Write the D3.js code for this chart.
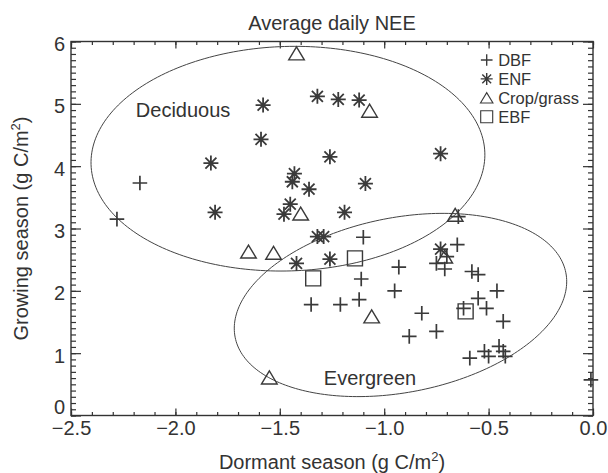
<!DOCTYPE html>
<html>
<head>
<meta charset="utf-8">
<script src="https://cdn.jsdelivr.net/npm/d3@7"></script>
<style>
  body { margin: 0; background: #fff; }
  svg text { font-family: "Liberation Sans", Arial, Helvetica, sans-serif; fill: #333; }
</style>
</head>
<body>
<div id="plot"></div>
<script>
// Dormant season NEE (x) vs growing season NEE (y), g C/m2 per day
const dbfX = [-2.28, -2.17, -1.10, -1.35, -1.21, -1.12, -1.11, -0.93, -0.95, -0.82, -0.88, -0.75,
  -0.65, -0.645, -0.75, -0.71, -0.70, -0.58, -0.55, -0.46, -0.55, -0.51, -0.43, -0.62,
  -0.59, -0.52, -0.50, -0.45, -0.43, -0.42, -0.01];
const dbfY = [3.15, 3.73, 2.86, 1.78, 1.78, 1.86, 2.19, 2.38, 2.00, 1.64, 1.27, 1.35,
  2.74, 3.19, 2.44, 2.35, 2.55, 2.31, 2.26, 2.00, 1.88, 1.72, 1.51, 1.72,
  0.92, 1.03, 0.95, 1.11, 1.03, 0.95, 0.57];

const enfX = [-1.58, -1.59, -1.83, -1.32, -1.22, -1.12, -1.26, -1.43, -1.44, -1.36, -1.81,
  -1.45, -1.48, -1.19, -1.09, -0.73, -1.32, -1.29, -1.42, -1.26, -0.73];
const enfY = [4.98, 4.43, 4.05, 5.12, 5.07, 5.06, 4.15, 3.88, 3.75, 3.63, 3.26,
  3.39, 3.23, 3.26, 3.72, 4.20, 2.87, 2.87, 2.44, 2.51, 2.67];

const cropX = [-1.42, -1.07, -1.40, -1.65, -1.53, -1.55, -1.06, -0.66, -0.71];
const cropY = [5.81, 4.89, 3.24, 2.63, 2.61, 0.61, 1.59, 3.22, 2.55];

const ebfX = [-1.34, -1.14, -0.61];
const ebfY = [2.20, 2.52, 1.67];

const legendLabels = ["DBF", "ENF", "Crop/grass", "EBF"];
const xTicks = [-2.5, -2.0, -1.5, -1.0, -0.5, 0.0];
const yTicks = [0, 1, 2, 3, 4, 5, 6];

// ellipses: centre and two conjugate semi-axes, in data units
const ellipseNames = ["Deciduous", "Evergreen"];
const ellipseCenter = [[-1.461, 4.12], [-0.922, 1.773]];
const ellipseU = [[0.943, 0.094], [0.792, 0.517]];
const ellipseV = [[-0.016, 1.80], [-0.080, 1.376]];
const ellipseLabelAt = [[-1.963, 4.91], [-1.068, 0.61]];

const W = 608, H = 473;
const mLeft = 71, mRight = 593, mTop = 41.5, mBottom = 415.5;

const svg = d3.select("#plot").append("svg")
  .attr("width", W)
  .attr("height", H);

const x = d3.scaleLinear().domain([-2.5, 0]).range([mLeft, mRight]);
const y = d3.scaleLinear().domain([0, 6]).range([mBottom, mTop]);

const ink = "#333";
const minorX = d3.range(-25, 1).map(d => d / 10);
const minorY = d3.range(0, 61).map(d => d / 10);

// inward ticks without labels
function ticksOnly(axis, pos, len, vals) {
  const g = svg.append("g")
    .attr("transform", pos)
    .call(axis.tickValues(vals).tickSize(-len).tickSizeOuter(0).tickFormat(""));
  g.select(".domain").remove();
  g.selectAll("line").attr("stroke", ink).attr("stroke-width", 1.2);
  return g;
}
ticksOnly(d3.axisBottom(x), `translate(0,${mBottom})`, 3.5, minorX);
ticksOnly(d3.axisTop(x), `translate(0,${mTop})`, 3.5, minorX);
ticksOnly(d3.axisLeft(y), `translate(${mLeft},0)`, 5, minorY);
ticksOnly(d3.axisRight(y), `translate(${mRight},0)`, 5, minorY);

// major ticks
ticksOnly(d3.axisTop(x), `translate(0,${mTop})`, 7, xTicks);
ticksOnly(d3.axisRight(y), `translate(${mRight},0)`, 10, yTicks);

const xAxis = svg.append("g")
  .attr("transform", `translate(0,${mBottom})`)
  .call(d3.axisBottom(x).tickValues(xTicks).tickSize(-7).tickSizeOuter(0)
    .tickPadding(19).tickFormat(d3.format(".1f")));
xAxis.select(".domain").remove();
xAxis.selectAll("line").attr("stroke", ink).attr("stroke-width", 1.2);
xAxis.selectAll("text").attr("font-size", 20).attr("dy", 0).attr("fill", ink);

const yAxis = svg.append("g")
  .attr("transform", `translate(${mLeft},0)`)
  .call(d3.axisLeft(y).tickValues(yTicks).tickSize(-10).tickSizeOuter(0)
    .tickPadding(6).tickFormat(d3.format("d")));
yAxis.select(".domain").remove();
yAxis.selectAll("line").attr("stroke", ink).attr("stroke-width", 1.2);
yAxis.selectAll("text").attr("font-size", 20).attr("fill", ink)
  .attr("dy", d => d === 0 ? "-0.12em" : "0.45em");

// frame
svg.append("rect")
  .attr("x", mLeft).attr("y", mTop)
  .attr("width", mRight - mLeft).attr("height", mBottom - mTop)
  .attr("fill", "none").attr("stroke", ink).attr("stroke-width", 1.4);

// ellipses
const line = d3.line().x(d => x(d[0])).y(d => y(d[1])).curve(d3.curveLinearClosed);
ellipseNames.forEach((name, i) => {
  const pts = d3.range(0, 240).map(k => {
    const t = k / 240 * 2 * Math.PI;
    return [ellipseCenter[i][0] + ellipseU[i][0] * Math.cos(t) + ellipseV[i][0] * Math.sin(t),
            ellipseCenter[i][1] + ellipseU[i][1] * Math.cos(t) + ellipseV[i][1] * Math.sin(t)];
  });
  svg.append("path")
    .attr("d", line(pts))
    .attr("fill", "none")
    .attr("stroke", "#444")
    .attr("stroke-width", 1);
  svg.append("text")
    .attr("x", x(ellipseLabelAt[i][0]))
    .attr("y", y(ellipseLabelAt[i][1]))
    .attr("dy", "0.36em")
    .attr("text-anchor", "middle")
    .attr("font-size", 20)
    .text(name);
});

// marker shapes, drawn around (0,0)
const shapes = {
  plus: "M-7.3,0H7.3M0,-7.3V7.3",
  star: "M-7.5,0H7.5M0,-7.5V7.5M-5.5,-5.5L5.5,5.5M-5.5,5.5L5.5,-5.5",
  tri: "M-7.8,6.5L0,-6.5L7.8,6.5Z",
  square: "M-7.5,-7.5H7.5V7.5H-7.5Z"
};
const groups = [
  {xs: dbfX, ys: dbfY, shape: "plus", w: 1.7},
  {xs: enfX, ys: enfY, shape: "star", w: 1.8},
  {xs: cropX, ys: cropY, shape: "tri", w: 1.4},
  {xs: ebfX, ys: ebfY, shape: "square", w: 1.4}
];
groups.forEach(g => {
  svg.append("g").selectAll("path")
    .data(g.xs.map((v, i) => [v, g.ys[i]]))
    .join("path")
    .attr("transform", d => `translate(${x(d[0])},${y(d[1])})`)
    .attr("d", shapes[g.shape])
    .attr("fill", "none")
    .attr("stroke", "#3a3a3a")
    .attr("stroke-width", g.w);
});

// legend
const legend = svg.append("g").attr("transform", "translate(486.7,60)");
legendLabels.forEach((lab, i) => {
  const row = legend.append("g").attr("transform", `translate(0,${i * 18.9})`);
  row.append("path")
    .attr("d", shapes[groups[i].shape])
    .attr("transform", "scale(0.8)")
    .attr("fill", "none")
    .attr("stroke", "#3a3a3a")
    .attr("stroke-width", groups[i].w);
  row.append("text")
    .attr("x", 11.5)
    .attr("dy", "0.36em")
    .attr("font-size", 16.5)
    .text(lab);
});

// titles
svg.append("text")
  .attr("x", (mLeft + mRight) / 2).attr("y", 30)
  .attr("text-anchor", "middle")
  .attr("font-size", 20)
  .text("Average daily NEE");

const xt = svg.append("text")
  .attr("x", (mLeft + mRight) / 2).attr("y", 469)
  .attr("text-anchor", "middle")
  .attr("font-size", 20)
  .text("Dormant season (g C/m");
xt.append("tspan").attr("dy", -8).attr("font-size", 13).text("2");
xt.append("tspan").attr("dy", 8).text(")");

const yt = svg.append("text")
  .attr("transform", `translate(28,${(mTop + mBottom) / 2}) rotate(-90)`)
  .attr("text-anchor", "middle")
  .attr("font-size", 20)
  .text("Growing season (g C/m");
yt.append("tspan").attr("dy", -8).attr("font-size", 13).text("2");
yt.append("tspan").attr("dy", 8).text(")");
</script>
</body>
</html>
